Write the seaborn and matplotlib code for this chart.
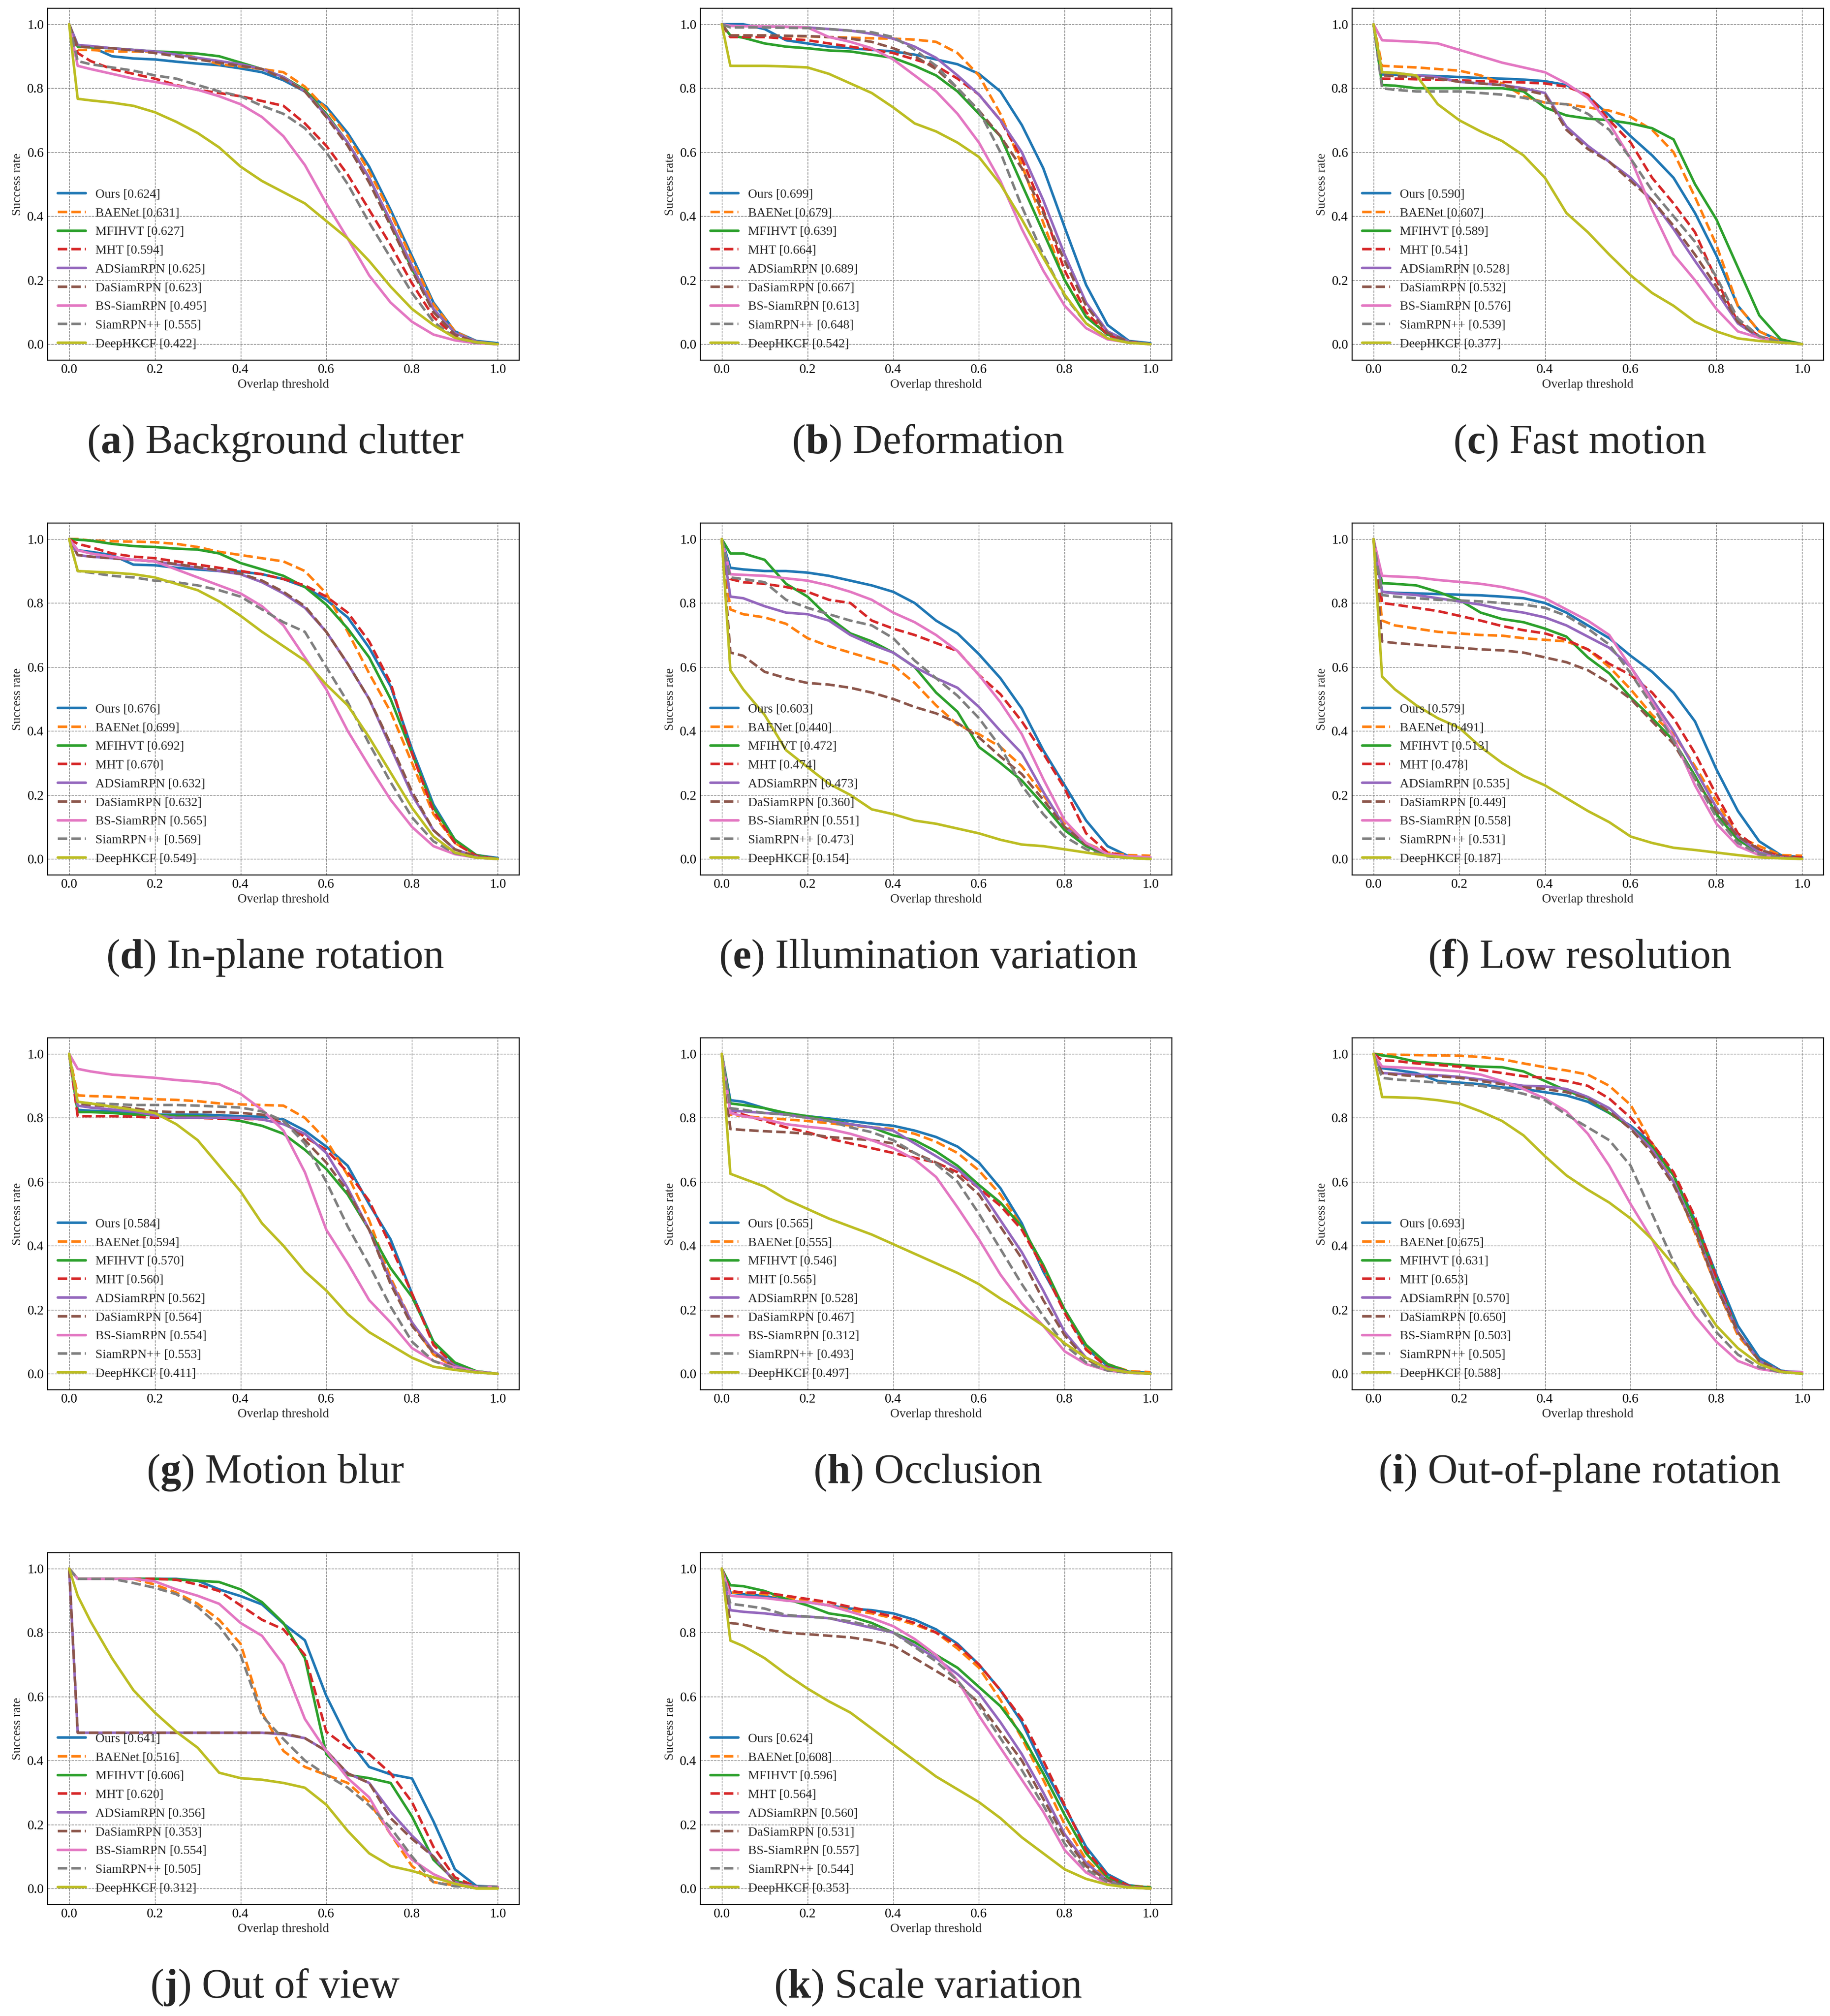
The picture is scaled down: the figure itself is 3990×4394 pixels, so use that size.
import matplotlib
matplotlib.use("Agg")
import matplotlib.pyplot as plt
import seaborn as sns

# overlap thresholds where every curve is sampled
THRESH = [0.0, 0.02, 0.05, 0.1, 0.15, 0.2, 0.25, 0.3, 0.35, 0.4, 0.45, 0.5,
          0.55, 0.6, 0.65, 0.7, 0.75, 0.8, 0.85, 0.9, 0.95, 1.0]

TRACKERS = ["Ours", "BAENet", "MFIHVT", "MHT", "ADSiamRPN", "DaSiamRPN",
            "BS-SiamRPN", "SiamRPN++", "DeepHKCF"]
DASHED = [False, True, False, True, False, True, False, True, False]

CAPTIONS = ["Background clutter", "Deformation", "Fast motion", "In-plane rotation",
            "Illumination variation", "Low resolution", "Motion blur", "Occlusion",
            "Out-of-plane rotation", "Out of view", "Scale variation"]
LETTERS = list("abcdefghijk")

# AUC scores shown in the legends, same order as TRACKERS
BC_SCORES = [0.624, 0.631, 0.627, 0.594, 0.625, 0.623, 0.495, 0.555, 0.422]
DEF_SCORES = [0.699, 0.679, 0.639, 0.664, 0.689, 0.667, 0.613, 0.648, 0.542]
FM_SCORES = [0.590, 0.607, 0.589, 0.541, 0.528, 0.532, 0.576, 0.539, 0.377]
IPR_SCORES = [0.676, 0.699, 0.692, 0.670, 0.632, 0.632, 0.565, 0.569, 0.549]
IV_SCORES = [0.603, 0.440, 0.472, 0.474, 0.473, 0.360, 0.551, 0.473, 0.154]
LR_SCORES = [0.579, 0.491, 0.513, 0.478, 0.535, 0.449, 0.558, 0.531, 0.187]
MB_SCORES = [0.584, 0.594, 0.570, 0.560, 0.562, 0.564, 0.554, 0.553, 0.411]
OCC_SCORES = [0.565, 0.555, 0.546, 0.565, 0.528, 0.467, 0.312, 0.493, 0.497]
OPR_SCORES = [0.693, 0.675, 0.631, 0.653, 0.570, 0.650, 0.503, 0.505, 0.588]
OV_SCORES = [0.641, 0.516, 0.606, 0.620, 0.356, 0.353, 0.554, 0.505, 0.312]
SV_SCORES = [0.624, 0.608, 0.596, 0.564, 0.560, 0.531, 0.557, 0.544, 0.353]

# success rate curves, one list per tracker
BC_CURVES = [
    [1.0, 0.935, 0.93, 0.90, 0.893, 0.89, 0.883, 0.877, 0.872, 0.862, 0.85, 0.825, 0.79, 0.742, 0.66, 0.555, 0.42, 0.275, 0.13, 0.04, 0.01, 0.003],
    [1.0, 0.92, 0.92, 0.915, 0.915, 0.915, 0.91, 0.895, 0.875, 0.868, 0.86, 0.85, 0.805, 0.735, 0.65, 0.54, 0.41, 0.265, 0.125, 0.04, 0.008, 0.0],
    [1.0, 0.93, 0.928, 0.925, 0.92, 0.915, 0.912, 0.908, 0.9, 0.88, 0.86, 0.835, 0.795, 0.72, 0.63, 0.52, 0.38, 0.235, 0.11, 0.035, 0.008, 0.0],
    [1.0, 0.91, 0.885, 0.86, 0.845, 0.83, 0.81, 0.795, 0.785, 0.775, 0.76, 0.745, 0.69, 0.62, 0.53, 0.42, 0.31, 0.19, 0.085, 0.025, 0.005, 0.0],
    [1.0, 0.935, 0.932, 0.925, 0.92, 0.915, 0.905, 0.895, 0.885, 0.875, 0.86, 0.835, 0.79, 0.715, 0.63, 0.52, 0.385, 0.245, 0.11, 0.035, 0.008, 0.0],
    [1.0, 0.93, 0.928, 0.925, 0.918, 0.91, 0.9, 0.89, 0.88, 0.87, 0.86, 0.83, 0.79, 0.71, 0.62, 0.505, 0.37, 0.23, 0.1, 0.03, 0.006, 0.0],
    [1.0, 0.87, 0.86, 0.845, 0.83, 0.82, 0.808, 0.795, 0.775, 0.75, 0.71, 0.65, 0.56, 0.44, 0.33, 0.215, 0.13, 0.07, 0.03, 0.012, 0.003, 0.0],
    [1.0, 0.885, 0.875, 0.865, 0.855, 0.84, 0.83, 0.81, 0.79, 0.775, 0.745, 0.72, 0.675, 0.6, 0.5, 0.38, 0.27, 0.16, 0.07, 0.02, 0.004, 0.0],
    [1.0, 0.767, 0.762, 0.755, 0.745, 0.725, 0.695, 0.66, 0.615, 0.555, 0.51, 0.475, 0.44, 0.385, 0.33, 0.26, 0.18, 0.11, 0.06, 0.02, 0.006, 0.0],
]
DEF_CURVES = [
    [1.0, 1.0, 1.0, 0.985, 0.95, 0.94, 0.93, 0.925, 0.92, 0.915, 0.905, 0.89, 0.875, 0.845, 0.79, 0.685, 0.55, 0.365, 0.185, 0.06, 0.01, 0.003],
    [1.0, 0.965, 0.965, 0.965, 0.963, 0.962, 0.96, 0.958, 0.956, 0.955, 0.952, 0.945, 0.91, 0.84, 0.72, 0.56, 0.38, 0.2, 0.09, 0.03, 0.008, 0.0],
    [1.0, 0.965, 0.958, 0.94, 0.93, 0.925, 0.918, 0.915, 0.905, 0.895, 0.87, 0.84, 0.79, 0.72, 0.65, 0.5, 0.35, 0.2, 0.085, 0.03, 0.008, 0.0],
    [1.0, 0.96, 0.96, 0.96, 0.955, 0.95, 0.94, 0.93, 0.92, 0.91, 0.89, 0.87, 0.83, 0.78, 0.7, 0.58, 0.42, 0.23, 0.1, 0.03, 0.005, 0.0],
    [1.0, 0.995, 0.994, 0.993, 0.992, 0.99, 0.985, 0.98, 0.97, 0.955, 0.93, 0.895, 0.84, 0.78, 0.7, 0.6, 0.45, 0.28, 0.13, 0.04, 0.008, 0.0],
    [1.0, 0.965, 0.965, 0.965, 0.964, 0.963, 0.96, 0.955, 0.945, 0.925, 0.9, 0.86, 0.8, 0.73, 0.65, 0.55, 0.41, 0.26, 0.12, 0.035, 0.008, 0.0],
    [1.0, 0.995, 0.994, 0.993, 0.992, 0.99, 0.96, 0.945, 0.925, 0.89, 0.84, 0.79, 0.72, 0.63, 0.51, 0.36, 0.23, 0.12, 0.05, 0.015, 0.005, 0.0],
    [1.0, 0.99, 0.99, 0.99, 0.989, 0.988, 0.985, 0.98, 0.975, 0.96, 0.92, 0.87, 0.8, 0.73, 0.6, 0.43, 0.28, 0.15, 0.065, 0.02, 0.005, 0.0],
    [1.0, 0.87, 0.87, 0.87, 0.868, 0.865, 0.845, 0.815, 0.785, 0.74, 0.69, 0.665, 0.63, 0.585, 0.5, 0.39, 0.27, 0.155, 0.065, 0.018, 0.004, 0.0],
]
FM_CURVES = [
    [1.0, 0.843, 0.842, 0.84, 0.838, 0.835, 0.832, 0.83, 0.827, 0.822, 0.81, 0.775, 0.715, 0.65, 0.59, 0.52, 0.41, 0.277, 0.12, 0.04, 0.01, 0.0],
    [1.0, 0.87, 0.868, 0.865, 0.86, 0.855, 0.84, 0.815, 0.775, 0.755, 0.75, 0.74, 0.73, 0.71, 0.67, 0.6, 0.46, 0.31, 0.12, 0.04, 0.008, 0.0],
    [1.0, 0.81, 0.808, 0.8, 0.8, 0.8, 0.8, 0.8, 0.79, 0.74, 0.715, 0.705, 0.7, 0.69, 0.675, 0.64, 0.5, 0.39, 0.24, 0.09, 0.015, 0.0],
    [1.0, 0.83, 0.83, 0.828, 0.826, 0.825, 0.822, 0.82, 0.818, 0.815, 0.805, 0.78, 0.7, 0.63, 0.52, 0.44, 0.35, 0.2, 0.07, 0.025, 0.005, 0.0],
    [1.0, 0.85, 0.848, 0.84, 0.835, 0.82, 0.815, 0.81, 0.8, 0.785, 0.68, 0.62, 0.57, 0.52, 0.45, 0.36, 0.26, 0.165, 0.065, 0.02, 0.005, 0.0],
    [1.0, 0.84, 0.838, 0.835, 0.83, 0.82, 0.815, 0.81, 0.795, 0.78, 0.67, 0.61, 0.57, 0.51, 0.45, 0.37, 0.28, 0.18, 0.07, 0.022, 0.005, 0.0],
    [1.0, 0.95, 0.948, 0.945, 0.94, 0.92, 0.9, 0.88, 0.865, 0.85, 0.815, 0.77, 0.69, 0.58, 0.42, 0.28, 0.2, 0.11, 0.04, 0.02, 0.006, 0.0],
    [1.0, 0.8, 0.795, 0.79, 0.79, 0.79, 0.785, 0.78, 0.77, 0.755, 0.75, 0.72, 0.67, 0.58, 0.48, 0.4, 0.32, 0.21, 0.08, 0.025, 0.006, 0.0],
    [1.0, 0.85, 0.848, 0.84, 0.75, 0.7, 0.665, 0.635, 0.59, 0.52, 0.41, 0.35, 0.28, 0.215, 0.16, 0.12, 0.07, 0.04, 0.018, 0.01, 0.005, 0.0],
]
IPR_CURVES = [
    [1.0, 0.965, 0.96, 0.95, 0.92, 0.918, 0.91, 0.905, 0.9, 0.898, 0.89, 0.875, 0.85, 0.81, 0.755, 0.66, 0.54, 0.343, 0.17, 0.06, 0.012, 0.003],
    [1.0, 1.0, 0.995, 0.993, 0.992, 0.99, 0.985, 0.975, 0.96, 0.95, 0.94, 0.93, 0.9, 0.83, 0.71, 0.58, 0.46, 0.3, 0.14, 0.05, 0.01, 0.0],
    [1.0, 0.998, 0.995, 0.985, 0.978, 0.975, 0.97, 0.967, 0.955, 0.925, 0.905, 0.885, 0.85, 0.795, 0.72, 0.63, 0.5, 0.33, 0.16, 0.06, 0.012, 0.0],
    [1.0, 0.985, 0.975, 0.955, 0.945, 0.94, 0.93, 0.92, 0.91, 0.9, 0.89, 0.875, 0.855, 0.82, 0.77, 0.68, 0.55, 0.33, 0.15, 0.05, 0.01, 0.0],
    [1.0, 0.95, 0.945, 0.94, 0.935, 0.93, 0.92, 0.91, 0.9, 0.89, 0.865, 0.83, 0.785, 0.71, 0.61, 0.5, 0.35, 0.2, 0.09, 0.03, 0.007, 0.0],
    [1.0, 0.95, 0.945, 0.94, 0.935, 0.93, 0.922, 0.912, 0.902, 0.892, 0.87, 0.835, 0.79, 0.71, 0.61, 0.5, 0.36, 0.21, 0.09, 0.03, 0.007, 0.0],
    [1.0, 0.965, 0.955, 0.945, 0.935, 0.93, 0.905, 0.88, 0.855, 0.83, 0.79, 0.73, 0.63, 0.53, 0.4, 0.29, 0.185, 0.1, 0.04, 0.015, 0.004, 0.0],
    [1.0, 0.9, 0.895, 0.885, 0.88, 0.87, 0.865, 0.855, 0.84, 0.82, 0.78, 0.74, 0.71, 0.6, 0.49, 0.36, 0.24, 0.13, 0.055, 0.018, 0.004, 0.0],
    [1.0, 0.9, 0.898, 0.895, 0.89, 0.88, 0.86, 0.84, 0.805, 0.76, 0.71, 0.665, 0.62, 0.545, 0.48, 0.38, 0.27, 0.16, 0.07, 0.02, 0.004, 0.0],
]
IV_CURVES = [
    [1.0, 0.91, 0.905, 0.9, 0.9, 0.895, 0.885, 0.87, 0.855, 0.835, 0.8, 0.745, 0.705, 0.64, 0.565, 0.47, 0.34, 0.23, 0.12, 0.04, 0.008, 0.005],
    [1.0, 0.78, 0.765, 0.755, 0.735, 0.69, 0.665, 0.645, 0.625, 0.605, 0.55, 0.48, 0.42, 0.39, 0.35, 0.29, 0.2, 0.11, 0.05, 0.02, 0.012, 0.01],
    [1.0, 0.955, 0.955, 0.935, 0.86, 0.82, 0.755, 0.705, 0.68, 0.645, 0.6, 0.52, 0.46, 0.35, 0.3, 0.245, 0.17, 0.09, 0.04, 0.01, 0.005, 0.0],
    [1.0, 0.875, 0.865, 0.86, 0.85, 0.835, 0.81, 0.8, 0.745, 0.72, 0.7, 0.675, 0.65, 0.575, 0.515, 0.43, 0.33, 0.22, 0.08, 0.02, 0.007, 0.005],
    [1.0, 0.82, 0.815, 0.79, 0.77, 0.765, 0.745, 0.7, 0.67, 0.645, 0.6, 0.565, 0.535, 0.475, 0.4, 0.33, 0.21, 0.1, 0.05, 0.015, 0.005, 0.0],
    [1.0, 0.645, 0.635, 0.585, 0.565, 0.55, 0.545, 0.535, 0.52, 0.5, 0.475, 0.455, 0.425, 0.38, 0.32, 0.265, 0.185, 0.1, 0.045, 0.015, 0.005, 0.0],
    [1.0, 0.89, 0.888, 0.885, 0.877, 0.87, 0.855, 0.835, 0.81, 0.77, 0.74, 0.7, 0.65, 0.575, 0.49, 0.39, 0.25, 0.12, 0.05, 0.015, 0.008, 0.005],
    [1.0, 0.88, 0.875, 0.865, 0.81, 0.785, 0.765, 0.745, 0.73, 0.69, 0.62, 0.565, 0.51, 0.44, 0.35, 0.23, 0.14, 0.07, 0.03, 0.008, 0.003, 0.0],
    [1.0, 0.59, 0.53, 0.45, 0.34, 0.287, 0.235, 0.2, 0.155, 0.14, 0.12, 0.11, 0.095, 0.08, 0.06, 0.045, 0.04, 0.03, 0.02, 0.01, 0.003, 0.0],
]
LR_CURVES = [
    [1.0, 0.835, 0.832, 0.83, 0.828, 0.826, 0.824, 0.82, 0.815, 0.8, 0.77, 0.73, 0.69, 0.635, 0.585, 0.52, 0.43, 0.28, 0.15, 0.055, 0.012, 0.005],
    [1.0, 0.745, 0.73, 0.72, 0.71, 0.705, 0.7, 0.698, 0.69, 0.685, 0.68, 0.655, 0.6, 0.53, 0.45, 0.39, 0.29, 0.18, 0.07, 0.04, 0.012, 0.01],
    [1.0, 0.862, 0.86, 0.855, 0.835, 0.81, 0.77, 0.75, 0.74, 0.72, 0.695, 0.63, 0.58, 0.505, 0.44, 0.37, 0.26, 0.14, 0.06, 0.02, 0.005, 0.0],
    [1.0, 0.8, 0.795, 0.785, 0.775, 0.76, 0.745, 0.728, 0.715, 0.705, 0.685, 0.655, 0.61, 0.575, 0.52, 0.44, 0.33, 0.2, 0.08, 0.03, 0.008, 0.005],
    [1.0, 0.835, 0.83, 0.825, 0.815, 0.805, 0.795, 0.78, 0.77, 0.755, 0.73, 0.695, 0.66, 0.6, 0.5, 0.4, 0.28, 0.16, 0.07, 0.02, 0.005, 0.0],
    [1.0, 0.68, 0.675, 0.67, 0.665, 0.66, 0.655, 0.652, 0.645, 0.63, 0.615, 0.59, 0.55, 0.5, 0.43, 0.36, 0.25, 0.15, 0.07, 0.03, 0.008, 0.0],
    [1.0, 0.885, 0.883, 0.88, 0.872, 0.866, 0.86, 0.85, 0.835, 0.815, 0.78, 0.745, 0.7, 0.6, 0.49, 0.38, 0.23, 0.11, 0.04, 0.012, 0.004, 0.0],
    [1.0, 0.825, 0.82, 0.815, 0.81, 0.808, 0.805, 0.8, 0.795, 0.785, 0.76, 0.72, 0.67, 0.58, 0.48, 0.37, 0.25, 0.13, 0.05, 0.015, 0.004, 0.0],
    [1.0, 0.57, 0.53, 0.48, 0.44, 0.41, 0.35, 0.3, 0.26, 0.23, 0.19, 0.15, 0.115, 0.07, 0.05, 0.035, 0.028, 0.02, 0.012, 0.005, 0.002, 0.0],
]
MB_CURVES = [
    [1.0, 0.825, 0.822, 0.82, 0.815, 0.81, 0.81, 0.81, 0.808, 0.805, 0.803, 0.795, 0.76, 0.71, 0.65, 0.53, 0.42, 0.25, 0.1, 0.03, 0.007, 0.0],
    [1.0, 0.87, 0.868, 0.866, 0.862, 0.858, 0.856, 0.852, 0.845, 0.842, 0.84, 0.838, 0.8, 0.73, 0.62, 0.48, 0.3, 0.16, 0.06, 0.02, 0.005, 0.0],
    [1.0, 0.818, 0.818, 0.815, 0.81, 0.808, 0.806, 0.805, 0.8, 0.79, 0.775, 0.75, 0.7, 0.64, 0.56, 0.45, 0.33, 0.24, 0.1, 0.035, 0.008, 0.0],
    [1.0, 0.805, 0.805, 0.805, 0.804, 0.8, 0.8, 0.8, 0.797, 0.797, 0.795, 0.785, 0.74, 0.7, 0.63, 0.54, 0.4, 0.25, 0.09, 0.025, 0.005, 0.0],
    [1.0, 0.838, 0.832, 0.826, 0.82, 0.808, 0.8, 0.8, 0.8, 0.8, 0.795, 0.78, 0.75, 0.69, 0.58, 0.45, 0.29, 0.16, 0.07, 0.025, 0.005, 0.0],
    [1.0, 0.845, 0.84, 0.835, 0.83, 0.82, 0.818, 0.818, 0.818, 0.815, 0.81, 0.79, 0.73, 0.66, 0.57, 0.45, 0.28, 0.15, 0.065, 0.02, 0.005, 0.0],
    [1.0, 0.953, 0.945, 0.935, 0.93, 0.925, 0.918, 0.913, 0.905, 0.875, 0.825, 0.76, 0.63, 0.45, 0.345, 0.23, 0.16, 0.08, 0.04, 0.02, 0.007, 0.0],
    [1.0, 0.848, 0.845, 0.843, 0.84, 0.84, 0.84, 0.838, 0.835, 0.832, 0.82, 0.79, 0.72, 0.6, 0.46, 0.34, 0.21, 0.1, 0.04, 0.015, 0.005, 0.0],
    [1.0, 0.85, 0.845, 0.835, 0.825, 0.815, 0.78, 0.73, 0.65, 0.57, 0.47, 0.4, 0.32, 0.26, 0.186, 0.13, 0.09, 0.05, 0.022, 0.012, 0.004, 0.0],
]
OCC_CURVES = [
    [1.0, 0.855, 0.85, 0.83, 0.81, 0.805, 0.798, 0.79, 0.782, 0.775, 0.76, 0.74, 0.71, 0.66, 0.58, 0.47, 0.32, 0.2, 0.08, 0.025, 0.006, 0.003],
    [1.0, 0.81, 0.805, 0.8, 0.795, 0.79, 0.783, 0.776, 0.77, 0.765, 0.75, 0.725, 0.69, 0.635, 0.56, 0.46, 0.33, 0.2, 0.085, 0.03, 0.008, 0.005],
    [1.0, 0.845, 0.84, 0.83, 0.815, 0.805, 0.795, 0.78, 0.77, 0.745, 0.73, 0.695, 0.65, 0.59, 0.535, 0.46, 0.34, 0.2, 0.09, 0.03, 0.006, 0.0],
    [1.0, 0.825, 0.81, 0.79, 0.77, 0.755, 0.735, 0.72, 0.705, 0.69, 0.675, 0.66, 0.63, 0.58, 0.525, 0.45, 0.33, 0.19, 0.075, 0.02, 0.005, 0.0],
    [1.0, 0.822, 0.82, 0.815, 0.81, 0.8, 0.79, 0.78, 0.77, 0.76, 0.72, 0.68, 0.64, 0.58, 0.48, 0.38, 0.26, 0.13, 0.05, 0.018, 0.005, 0.0],
    [1.0, 0.765, 0.762, 0.758, 0.755, 0.75, 0.74, 0.735, 0.73, 0.72, 0.69, 0.66, 0.62, 0.56, 0.46, 0.36, 0.23, 0.12, 0.045, 0.015, 0.004, 0.0],
    [1.0, 0.815, 0.805, 0.795, 0.78, 0.772, 0.765, 0.75, 0.73, 0.705, 0.67, 0.615, 0.52, 0.42, 0.31, 0.22, 0.15, 0.07, 0.03, 0.01, 0.003, 0.0],
    [1.0, 0.83, 0.825, 0.815, 0.81, 0.8, 0.79, 0.77, 0.755, 0.73, 0.69, 0.655, 0.6, 0.5, 0.39, 0.28, 0.18, 0.09, 0.035, 0.01, 0.003, 0.0],
    [1.0, 0.625, 0.61, 0.585, 0.545, 0.515, 0.485, 0.46, 0.435, 0.405, 0.375, 0.345, 0.315, 0.28, 0.235, 0.195, 0.15, 0.095, 0.05, 0.015, 0.004, 0.0],
]
OPR_CURVES = [
    [1.0, 0.955, 0.95, 0.94, 0.915, 0.91, 0.905, 0.895, 0.89, 0.88, 0.87, 0.85, 0.815, 0.775, 0.72, 0.62, 0.48, 0.31, 0.15, 0.05, 0.01, 0.0],
    [1.0, 0.998, 0.997, 0.996, 0.995, 0.994, 0.99, 0.983, 0.97, 0.958, 0.948, 0.935, 0.9, 0.84, 0.72, 0.6, 0.44, 0.27, 0.12, 0.04, 0.008, 0.0],
    [1.0, 0.995, 0.99, 0.975, 0.97, 0.965, 0.96, 0.958, 0.945, 0.915, 0.885, 0.86, 0.815, 0.77, 0.71, 0.62, 0.47, 0.3, 0.13, 0.04, 0.008, 0.0],
    [1.0, 0.98, 0.978, 0.97, 0.965, 0.96, 0.95, 0.94, 0.93, 0.925, 0.915, 0.9, 0.86, 0.8, 0.72, 0.63, 0.49, 0.3, 0.13, 0.04, 0.008, 0.0],
    [1.0, 0.94, 0.938, 0.935, 0.933, 0.928, 0.92, 0.91, 0.9, 0.898, 0.89, 0.865, 0.83, 0.77, 0.7, 0.6, 0.45, 0.28, 0.13, 0.04, 0.008, 0.005],
    [1.0, 0.94, 0.935, 0.93, 0.93, 0.925, 0.915, 0.905, 0.895, 0.89, 0.88, 0.86, 0.82, 0.765, 0.69, 0.59, 0.45, 0.27, 0.13, 0.04, 0.008, 0.0],
    [1.0, 0.96, 0.958, 0.955, 0.95, 0.945, 0.935, 0.915, 0.89, 0.86, 0.82, 0.75, 0.65, 0.53, 0.42, 0.28, 0.18, 0.1, 0.04, 0.015, 0.005, 0.005],
    [1.0, 0.925, 0.92, 0.915, 0.91, 0.905, 0.9, 0.89, 0.875, 0.855, 0.81, 0.77, 0.73, 0.65, 0.5, 0.35, 0.23, 0.13, 0.06, 0.02, 0.005, 0.0],
    [1.0, 0.865, 0.864, 0.862, 0.855, 0.845, 0.82, 0.79, 0.745, 0.68, 0.62, 0.575, 0.535, 0.485, 0.42, 0.34, 0.25, 0.15, 0.08, 0.03, 0.006, 0.0],
]
OV_CURVES = [
    [1.0, 0.968, 0.968, 0.968, 0.968, 0.968, 0.968, 0.962, 0.935, 0.914, 0.888, 0.828, 0.776, 0.602, 0.467, 0.38, 0.357, 0.344, 0.21, 0.06, 0.008, 0.005],
    [1.0, 0.968, 0.968, 0.968, 0.968, 0.95, 0.925, 0.89, 0.84, 0.765, 0.55, 0.43, 0.38, 0.355, 0.33, 0.27, 0.17, 0.07, 0.02, 0.01, 0.005, 0.005],
    [1.0, 0.968, 0.968, 0.968, 0.968, 0.968, 0.966, 0.962, 0.958, 0.935, 0.895, 0.83, 0.72, 0.42, 0.355, 0.345, 0.33, 0.225, 0.09, 0.025, 0.005, 0.005],
    [1.0, 0.968, 0.968, 0.968, 0.968, 0.968, 0.965, 0.95, 0.93, 0.885, 0.84, 0.81, 0.73, 0.49, 0.44, 0.42, 0.36, 0.27, 0.13, 0.035, 0.005, 0.005],
    [1.0, 0.487, 0.487, 0.487, 0.487, 0.487, 0.487, 0.487, 0.487, 0.487, 0.487, 0.482, 0.47, 0.43, 0.36, 0.33, 0.24, 0.165, 0.1, 0.02, 0.005, 0.005],
    [1.0, 0.487, 0.487, 0.487, 0.487, 0.487, 0.487, 0.487, 0.487, 0.487, 0.487, 0.485, 0.47, 0.43, 0.36, 0.33, 0.22, 0.155, 0.1, 0.02, 0.005, 0.005],
    [1.0, 0.968, 0.968, 0.968, 0.968, 0.96, 0.935, 0.915, 0.89, 0.83, 0.79, 0.7, 0.53, 0.43, 0.345, 0.285, 0.17, 0.09, 0.045, 0.015, 0.005, 0.005],
    [1.0, 0.968, 0.968, 0.968, 0.955, 0.94, 0.92, 0.88, 0.82, 0.73, 0.54, 0.467, 0.4, 0.355, 0.315, 0.26, 0.19, 0.1, 0.02, 0.007, 0.005, 0.005],
    [1.0, 0.915, 0.835, 0.72, 0.62, 0.55, 0.49, 0.44, 0.362, 0.345, 0.34, 0.33, 0.315, 0.262, 0.18, 0.11, 0.07, 0.055, 0.035, 0.015, 0.0, 0.0],
]
SV_CURVES = [
    [1.0, 0.925, 0.92, 0.915, 0.9, 0.895, 0.885, 0.875, 0.87, 0.86, 0.84, 0.81, 0.765, 0.7, 0.62, 0.52, 0.38, 0.255, 0.13, 0.045, 0.01, 0.003],
    [1.0, 0.925, 0.925, 0.92, 0.91, 0.9, 0.885, 0.87, 0.86, 0.845, 0.825, 0.8, 0.75, 0.69, 0.59, 0.47, 0.34, 0.2, 0.09, 0.03, 0.008, 0.005],
    [1.0, 0.948, 0.945, 0.93, 0.905, 0.885, 0.86, 0.85, 0.83, 0.8, 0.77, 0.73, 0.69, 0.63, 0.57, 0.48, 0.36, 0.23, 0.11, 0.035, 0.008, 0.003],
    [1.0, 0.93, 0.925, 0.925, 0.915, 0.905, 0.895, 0.88, 0.865, 0.85, 0.83, 0.8, 0.76, 0.7, 0.62, 0.53, 0.4, 0.26, 0.12, 0.04, 0.008, 0.0],
    [1.0, 0.87, 0.865, 0.86, 0.852, 0.85, 0.845, 0.83, 0.815, 0.8, 0.76, 0.72, 0.67, 0.61, 0.52, 0.42, 0.3, 0.17, 0.08, 0.025, 0.005, 0.0],
    [1.0, 0.83, 0.825, 0.81, 0.8, 0.795, 0.79, 0.785, 0.775, 0.76, 0.72, 0.68, 0.64, 0.58, 0.49, 0.4, 0.28, 0.16, 0.07, 0.025, 0.005, 0.0],
    [1.0, 0.915, 0.912, 0.908, 0.9, 0.895, 0.885, 0.865, 0.845, 0.82, 0.78, 0.73, 0.65, 0.54, 0.44, 0.34, 0.24, 0.12, 0.05, 0.015, 0.004, 0.0],
    [1.0, 0.89, 0.885, 0.875, 0.855, 0.85, 0.845, 0.835, 0.82, 0.8, 0.755, 0.71, 0.65, 0.57, 0.47, 0.37, 0.26, 0.14, 0.06, 0.02, 0.004, 0.0],
    [1.0, 0.775, 0.758, 0.72, 0.67, 0.625, 0.585, 0.55, 0.5, 0.45, 0.4, 0.35, 0.31, 0.27, 0.22, 0.16, 0.11, 0.06, 0.03, 0.012, 0.003, 0.0],
]

ALL_SCORES = [BC_SCORES, DEF_SCORES, FM_SCORES, IPR_SCORES, IV_SCORES, LR_SCORES,
              MB_SCORES, OCC_SCORES, OPR_SCORES, OV_SCORES, SV_SCORES]
ALL_CURVES = [BC_CURVES, DEF_CURVES, FM_CURVES, IPR_CURVES, IV_CURVES, LR_CURVES,
              MB_CURVES, OCC_CURVES, OPR_CURVES, OV_CURVES, SV_CURVES]

sns.set_style("white")
plt.rcParams['font.family'] = ['Liberation Serif', 'DejaVu Serif']
plt.rcParams['mathtext.fontset'] = 'custom'
plt.rcParams['mathtext.rm'] = 'Liberation Serif'
plt.rcParams['mathtext.bf'] = 'Liberation Serif:bold'

LW = 4.0

W, H = 3991, 4394
colors = sns.color_palette("tab10")[:9]

fig = plt.figure(figsize=(W / 100, H / 100), dpi=100)
fig.patch.set_facecolor("white")

col_left = [104, 1527, 2948]
row_top = [18, 1140, 2262, 3384]
ax_w, ax_h = 1028, 767

for i in range(11):
    r, c = divmod(i, 3)
    left, top = col_left[c], row_top[r]
    ax = fig.add_axes([left / W, 1 - (top + ax_h) / H, ax_w / W, ax_h / H])

    for j, name in enumerate(TRACKERS):
        sns.lineplot(x=THRESH, y=ALL_CURVES[i][j], ax=ax, color=colors[j],
                     label=f"{name} [{ALL_SCORES[i][j]:.3f}]")
        line = ax.lines[-1]
        line.set_linewidth(LW)
        line.set_linestyle("--" if DASHED[j] else "-")

    ax.set_xlim(-0.05, 1.05)
    ax.set_ylim(-0.05, 1.05)
    ax.set_xticks([0.0, 0.2, 0.4, 0.6, 0.8, 1.0])
    ax.set_yticks([0.0, 0.2, 0.4, 0.6, 0.8, 1.0])
    ax.set_xticklabels(["0.0", "0.2", "0.4", "0.6", "0.8", "1.0"])
    ax.set_yticklabels(["0.0", "0.2", "0.4", "0.6", "0.8", "1.0"])
    ax.grid(True, linestyle="--", color="#777777", linewidth=1.0)
    ax.set_axisbelow(True)
    ax.tick_params(direction="in", length=7, width=1.5, labelsize=21, pad=6,
                   top=False, right=False, colors="black")
    for sp in ax.spines.values():
        sp.set_visible(True)
        sp.set_linewidth(1.6)
        sp.set_color("black")
    ax.set_xlabel("Overlap threshold", fontsize=20, labelpad=5)
    ax.set_ylabel("Success rate", fontsize=20, labelpad=6)

    ax.legend(loc="lower left", frameon=False, fontsize=20, handlelength=2.2,
              handletextpad=0.75, labelspacing=0.55, borderaxespad=0.5,
              borderpad=0.3)

    cx = (left + ax_w / 2 - 18) / W
    cy = 1 - (top + ax_h + 203) / H
    fig.text(cx, cy, rf"($\mathbf{{{LETTERS[i]}}}$) {CAPTIONS[i]}",
             ha="center", va="baseline", fontsize=65)

fig.savefig("out.png", dpi=100, facecolor="white")
